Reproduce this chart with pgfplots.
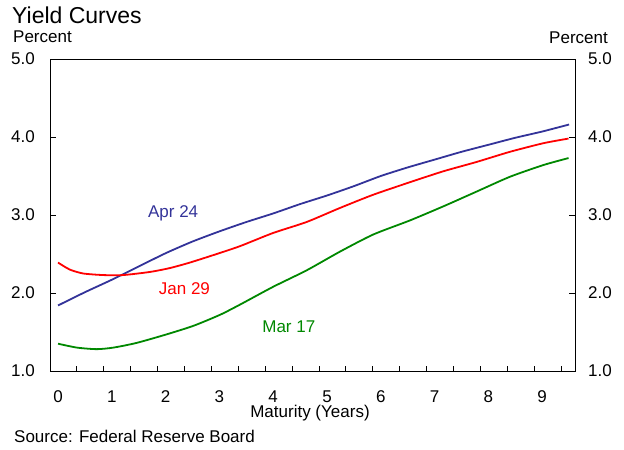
\documentclass[border=0pt]{standalone}
\usepackage{pgfplots}
\pgfplotsset{compat=1.18}
\usepackage{fontspec}
\setmainfont{Liberation Sans}

\definecolor{aprblue}{RGB}{51,51,153}
\definecolor{janred}{RGB}{255,0,0}
\definecolor{margreen}{RGB}{0,136,0}

\newcommand\txt{\fontsize{17bp}{20bp}\selectfont}
\newcommand\ttl{\fontsize{23bp}{26bp}\selectfont}

\begin{document}
\begin{tikzpicture}[font=\txt]
  \path[use as bounding box] (-50bp,-79bp) rectangle (574bp,371bp);

  \begin{axis}[
    at={(0,0)}, anchor=south west,
    scale only axis, width=525bp, height=312bp,
    xmin=-0.149, xmax=9.61, ymin=1, ymax=5,
    axis line style={black, line width=1bp},
    tick align=inside,
    xtick={0,1,2,3,4,5,6,7,8,9},
    xticklabels={0,1,2,3,4,5,6,7,8,9},
    xtick pos=bottom,
    major x tick style={draw=none},
    minor xtick={0.35,0.85,1.35,1.85,2.35,2.85,3.35,3.85,4.35,4.85,
                 5.35,5.85,6.35,6.85,7.35,7.85,8.35,8.85,9.35},
    minor tick length=5bp,
    minor x tick style={black, line width=0.8bp},
    ytick={1,2,3,4,5},
    ytick pos=both,
    major tick length=6bp,
    major y tick style={black, line width=0.8bp},
    xticklabel style={anchor=base, inner sep=0pt, yshift=-31bp},
    yticklabel style={anchor=east, inner sep=0pt, xshift=-15bp,
      /pgf/number format/.cd, fixed, fixed zerofill, precision=1,
      assume math mode=true},
    every axis plot/.append style={line width=1.8bp, smooth, tension=0.4},
  ]
    % Apr 24
    \addplot[aprblue] coordinates {
      (0,1.84) (0.5,2.01) (1,2.17) (1.5,2.34) (2,2.51) (2.5,2.66)
      (3,2.79) (3.5,2.91) (4,3.02) (4.5,3.14) (5,3.25) (5.5,3.37)
      (6,3.50) (6.5,3.61) (7,3.71) (7.5,3.81) (8,3.90) (8.5,3.99)
      (9,4.07) (9.5,4.16)
    };
    % Jan 29
    \addplot[janred] coordinates {
      (0,2.39) (0.22,2.30) (0.47,2.25) (0.84,2.23) (1.21,2.23)
      (1.71,2.27) (2.08,2.32) (2.45,2.39) (2.95,2.50) (3.38,2.60)
      (4.0,2.77) (4.62,2.91) (5.24,3.09) (5.86,3.26) (6.54,3.42)
      (7.16,3.56) (7.78,3.68) (8.40,3.81) (9.02,3.92) (9.49,3.98)
    };
    % Mar 17
    \addplot[margreen] coordinates {
      (0,1.35) (0.35,1.30) (0.72,1.28) (1.03,1.30) (1.46,1.36)
      (2.02,1.47) (2.52,1.58) (3.01,1.72) (3.38,1.85) (4.0,2.08)
      (4.62,2.29) (5.24,2.53) (5.86,2.75) (6.54,2.93) (7.16,3.11)
      (7.78,3.30) (8.40,3.49) (9.02,3.64) (9.49,3.73)
    };

    \node[text=aprblue] at (axis cs:2.14,3.02) {Apr 24};
    \node[text=janred] at (axis cs:2.35,2.06) {Jan 29};
    \node[text=margreen] at (axis cs:4.29,1.57) {Mar 17};
  \end{axis}

  % right-hand labels
  \begin{axis}[
    at={(0,0)}, anchor=south west,
    scale only axis, width=525bp, height=312bp,
    xmin=-0.149, xmax=9.61, ymin=1, ymax=5,
    hide x axis,
    axis y line*=right,
    y axis line style={draw=none},
    ytick={1,2,3,4,5},
    ytick style={draw=none},
    yticklabel style={anchor=west, inner sep=0pt, xshift=13bp,
      /pgf/number format/.cd, fixed, fixed zerofill, precision=1,
      assume math mode=true},
  ]
  \end{axis}

  \node[anchor=base west, inner sep=0pt, font=\ttl] at (-38bp,347bp) {Yield Curves};
  \node[anchor=base west, inner sep=0pt] at (-37bp,328bp) {Percent};
  \node[anchor=base east, inner sep=0pt] at (558bp,327bp) {Percent};
  \node[anchor=base, inner sep=0pt] at (260bp,-46bp) {Maturity (Years)};
  \node[anchor=base west, inner sep=0pt] at (-36bp,-71bp) {Source: Federal Reserve Board};
\end{tikzpicture}
\end{document}
